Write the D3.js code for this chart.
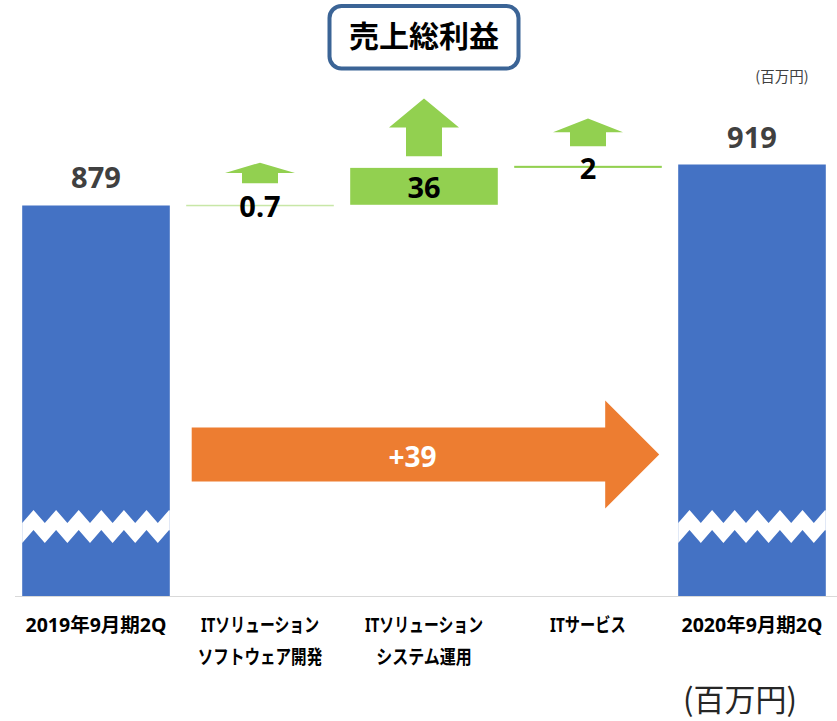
<!DOCTYPE html>
<html>
<head>
<meta charset="utf-8">
<script src="https://cdn.jsdelivr.net/npm/d3@7"></script>
<style>
  body { margin: 0; background: #fff; }
  svg { display: block; }
</style>
</head>
<body>
<div id="chart"></div>
<script>
// Data
const categories = [
    ['2019年9月期2Q'],
    ['ITソリューション', 'ソフトウェア開発'],
    ['ITソリューション', 'システム運用'],
    ['ITサービス'],
    ['2020年9月期2Q']
];
const startValue = 879;
const endValue = 919;
const deltas = [0.7, 36, 2];
const deltaLabels = ['0.7', '36', '2'];
const totalChangeLabel = '+39';
const titleText = '売上総利益';
const unitText = '(百万円)';

const width = 837;
const height = 721;
const baselineY = 596;
const axisFloor = 498; // broken axis: value sitting on the baseline

const svg = d3.select('#chart')
    .append('svg')
    .attr('width', width)
    .attr('height', height)
    .attr('viewBox', `0 0 ${width} ${height}`);

const x = d3.scaleBand()
    .domain(d3.range(categories.length))
    .range([14, 834])
    .paddingInner(0.1)
    .paddingOuter(0.05);

const y = d3.scaleLinear()
    .domain([axisFloor, endValue])
    .range([baselineY, 164.5]);

// Arrow heights grow slowly with the size of the step
const arrowH = d3.scalePow().exponent(0.2).domain([0.7, 36]).range([20.6, 57.7]);
const arrowGap = d3.scalePow().exponent(0.2).domain([0.7, 36]).range([21.5, 11.6]);

// Build waterfall steps
const steps = [];
steps.push({ i: 0, type: 'total', from: axisFloor, to: startValue, label: String(startValue) });
let run = startValue;
deltas.forEach((d, k) => {
    steps.push({ i: k + 1, type: 'delta', from: run, to: run + d, value: d, label: deltaLabels[k] });
    run += d;
});
steps.push({ i: 4, type: 'total', from: axisFloor, to: endValue, label: String(endValue) });

const numFont = "'Noto Sans', 'Noto Sans CJK JP', sans-serif";
const jpFont = "'Noto Sans', 'Noto Sans CJK JP', sans-serif";

// Baseline
svg.append('line')
    .attr('x1', 15)
    .attr('x2', width)
    .attr('y1', baselineY + 0.5)
    .attr('y2', baselineY + 0.5)
    .attr('stroke', '#d9d9d9')
    .attr('stroke-width', 1);

// Total bars
const totals = steps.filter(d => d.type === 'total');
svg.selectAll('rect.total')
    .data(totals)
    .enter()
    .append('rect')
    .attr('class', 'total')
    .attr('x', d => x(d.i))
    .attr('y', d => y(d.to))
    .attr('width', x.bandwidth())
    .attr('height', d => y(d.from) - y(d.to))
    .attr('fill', '#4472c4');

// Break marks on total bars (zigzag white band)
const period = 22.6;
const amp = 13;
const breakTop = 523;
const bandGap = 20;
function zigY(x0, px) {
    const phase = (((px - x0) / period) % 1 + 1) % 1;
    const tri = 1 - Math.abs(2 * phase - 1);
    return breakTop - amp * tri;
}
function zigPath(x0, x1) {
    const xs = d3.range(x0, x1, period / 2).concat([x1]);
    const top = xs.map(px => [px, zigY(x0, px)]);
    const bottom = xs.slice().reverse().map(px => [px, zigY(x0, px) + bandGap]);
    return d3.line()(top.concat(bottom)) + 'Z';
}
svg.selectAll('path.break')
    .data(totals)
    .enter()
    .append('path')
    .attr('class', 'break')
    .attr('d', d => zigPath(x(d.i), x(d.i) + x.bandwidth()))
    .attr('fill', '#fff');

// Total labels
svg.selectAll('text.total-label')
    .data(totals)
    .enter()
    .append('text')
    .attr('class', 'total-label')
    .attr('x', d => x(d.i) + x.bandwidth() / 2)
    .attr('y', d => y(d.to) - 17)
    .attr('text-anchor', 'middle')
    .attr('font-family', numFont)
    .attr('font-weight', 'bold')
    .attr('font-size', 29)
    .attr('fill', '#404040')
    .text(d => d.label);

// Delta boxes
const deltaSteps = steps.filter(d => d.type === 'delta');
svg.selectAll('rect.delta')
    .data(deltaSteps)
    .enter()
    .append('rect')
    .attr('class', 'delta')
    .attr('x', d => x(d.i))
    .attr('y', d => y(d.to))
    .attr('width', x.bandwidth())
    .attr('height', d => Math.max(y(d.from) - y(d.to), 1.5))
    .attr('fill', '#92d050')
    .attr('fill-opacity', d => d.value < 1 ? 0.5 : 1);

// Up arrows above each delta
function upArrow(cx, yb, h) {
    const stemW = 36, headW = 70;
    return d3.line()([
        [cx - stemW / 2, yb],
        [cx - stemW / 2, yb - h / 2],
        [cx - headW / 2, yb - h / 2],
        [cx, yb - h],
        [cx + headW / 2, yb - h / 2],
        [cx + stemW / 2, yb - h / 2],
        [cx + stemW / 2, yb]
    ]) + 'Z';
}
svg.selectAll('path.up')
    .data(deltaSteps)
    .enter()
    .append('path')
    .attr('class', 'up')
    .attr('d', d => upArrow(x(d.i) + x.bandwidth() / 2, y(d.to) - arrowGap(d.value), arrowH(d.value)))
    .attr('fill', '#92d050');

// Delta labels
svg.selectAll('text.delta-label')
    .data(deltaSteps)
    .enter()
    .append('text')
    .attr('class', 'delta-label')
    .attr('x', d => x(d.i) + x.bandwidth() / 2)
    .attr('y', d => y((d.from + d.to) / 2) + 12)
    .attr('text-anchor', 'middle')
    .attr('font-family', numFont)
    .attr('font-weight', 'bold')
    .attr('font-size', 29)
    .attr('fill', '#000')
    .text(d => d.label);

// Big orange arrow for the total change
const ax0 = x(1) + 5.5;
const axTip = x(4) - 19;
const axHead = axTip - 54;
const ay = 454.5;
svg.append('path')
    .attr('d', d3.line()([
        [ax0, ay - 27],
        [axHead, ay - 27],
        [axHead, ay - 54],
        [axTip, ay],
        [axHead, ay + 54],
        [axHead, ay + 27],
        [ax0, ay + 27]
    ]) + 'Z')
    .attr('fill', '#ed7d31');

svg.append('text')
    .attr('x', (ax0 + axHead) / 2 + 14)
    .attr('y', ay + 12)
    .attr('text-anchor', 'middle')
    .attr('font-family', numFont)
    .attr('font-weight', 'bold')
    .attr('font-size', 28)
    .attr('fill', '#fff')
    .text(totalChangeLabel);

// Category labels (kana are set narrow, as in the original UI font)
const catSize = 19.5;
const kanaRe = /[\u30A0-\u30FF]/;
const catG = svg.selectAll('text.cat')
    .data(categories)
    .enter()
    .append('text')
    .attr('class', 'cat')
    .attr('x', (d, i) => x(i) + x.bandwidth() / 2)
    .attr('y', 632)
    .attr('text-anchor', 'middle')
    .attr('font-family', jpFont)
    .attr('font-weight', 'bold')
    .attr('font-size', catSize)
    .attr('fill', '#000');
catG.each(function (lines, i) {
    const cx = x(i) + x.bandwidth() / 2;
    lines.forEach((line, j) => {
        const t = d3.select(this).append('tspan')
            .attr('x', cx)
            .attr('dy', j === 0 ? 0 : 32)
            .text(line);
        const kana = line.split('').filter(c => kanaRe.test(c)).length;
        if (kana > 0) {
            const natural = t.node().getComputedTextLength();
            t.attr('textLength', natural - kana * catSize * 0.27)
                .attr('lengthAdjust', 'spacingAndGlyphs');
        }
    });
});

// Title box
svg.append('rect')
    .attr('x', 329.5)
    .attr('y', 6)
    .attr('width', 189)
    .attr('height', 62.5)
    .attr('rx', 12)
    .attr('fill', '#fff')
    .attr('stroke', '#3b6496')
    .attr('stroke-width', 4);

svg.append('text')
    .attr('x', 424)
    .attr('y', 47)
    .attr('text-anchor', 'middle')
    .attr('font-family', "'Noto Sans CJK JP', sans-serif")
    .attr('font-weight', 'bold')
    .attr('font-size', 30)
    .attr('fill', '#000')
    .text(titleText);

// Unit labels
svg.append('text')
    .attr('x', 782)
    .attr('y', 82)
    .attr('text-anchor', 'middle')
    .attr('font-family', "'Noto Sans CJK JP', sans-serif")
    .attr('font-size', 14.5)
    .attr('fill', '#404040')
    .text(unitText);

svg.append('text')
    .attr('x', 740)
    .attr('y', 711)
    .attr('text-anchor', 'middle')
    .attr('font-family', "'Noto Sans CJK JP', sans-serif")
    .attr('font-size', 31)
    .attr('fill', '#262626')
    .text(unitText);
</script>
</body>
</html>
